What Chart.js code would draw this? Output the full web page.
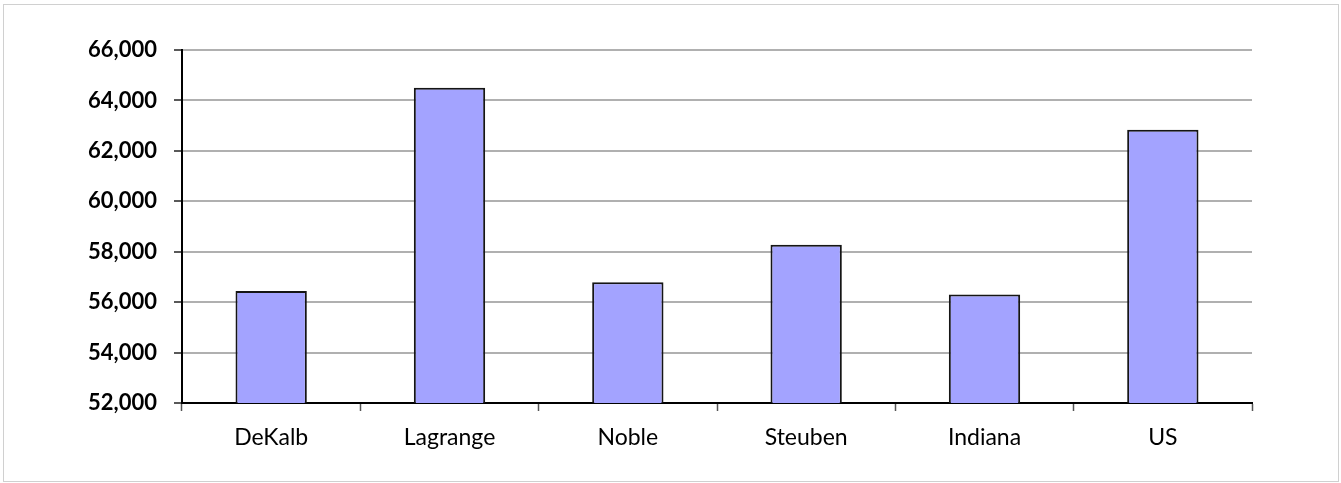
<!DOCTYPE html>
<html>
<head>
<meta charset="utf-8">
<script src="https://cdn.jsdelivr.net/npm/chart.js@4/dist/chart.umd.min.js"></script>
<style>
  html, body { margin: 0; padding: 0; background: #fff; }
  #wrap { position: relative; width: 1341px; height: 483px; }
</style>
</head>
<body>
<div id="wrap"><canvas id="chart" width="1341" height="483"></canvas></div>
<script>
// Median household income by area
const categories = ['DeKalb', 'Lagrange', 'Noble', 'Steuben', 'Indiana', 'US'];
const incomeValues = [56440, 64500, 56790, 58280, 56300, 62840];
const yTickMin = 52000;
const yTickMax = 66000;
const yTickStep = 2000;

// Light frame around the whole chart
const framePlugin = {
  id: 'frame',
  afterDraw(chart) {
    const ctx = chart.ctx;
    ctx.save();
    ctx.strokeStyle = '#d0d0d0';
    ctx.lineWidth = 1;
    ctx.strokeRect(3.5, 4.5, 1335, 477);
    ctx.restore();
  }
};

new Chart(document.getElementById('chart'), {
  type: 'bar',
  data: {
    labels: categories,
    datasets: [{
      data: incomeValues,
      backgroundColor: '#a3a3ff',
      borderColor: '#151515',
      borderWidth: 2,
      barPercentage: 0.4,
      categoryPercentage: 1.0
    }]
  },
  options: {
    responsive: false,
    animation: false,
    layout: { padding: { top: 50, right: 89, left: 0, bottom: 0 } },
    plugins: { legend: { display: false }, tooltip: { enabled: false } },
    scales: {
      x: {
        offset: true,
        grid: {
          offset: true,
          drawOnChartArea: false,
          drawTicks: true,
          tickLength: 8,
          tickColor: '#555',
          tickWidth: 1.5
        },
        border: { color: '#000', width: 2 },
        ticks: {
          color: '#000',
          padding: 13,
          font: { family: 'Lato', size: 23 }
        },
        afterFit(scale) { scale.height = 80; }
      },
      y: {
        min: yTickMin,
        max: yTickMax,
        ticks: {
          stepSize: yTickStep,
          color: '#000',
          padding: 17,
          font: { family: 'Lato', size: 22, weight: 'bold' },
          callback: v => v.toLocaleString('en-US')
        },
        grid: {
          color: '#b0b0b0',
          lineWidth: 2,
          tickLength: 8,
          tickColor: '#222',
          tickWidth: 1.5
        },
        border: { color: '#000', width: 2 },
        afterFit(scale) { scale.width = 182; }
      }
    }
  },
  plugins: [framePlugin]
});
</script>
</body>
</html>
